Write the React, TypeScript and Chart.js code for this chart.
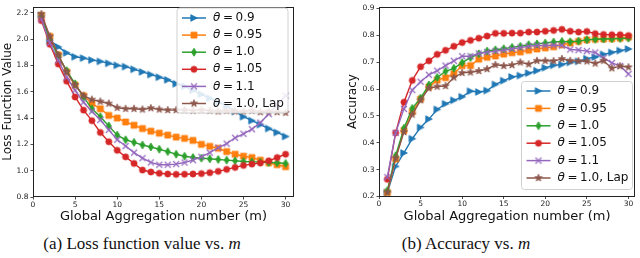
import React, { useEffect, useRef } from 'react';
import { Chart, registerables } from 'chart.js';
Chart.register(...registerables);

// ---------- data ----------
const rounds = [1, 2, 3, 4, 5, 6, 7, 8, 9, 10, 11, 12, 13, 14, 15, 16, 17, 18, 19, 20, 21, 22, 23, 24, 25, 26, 27, 28, 29, 30];
const seriesValues = ['0.9', '0.95', '1.0', '1.05', '1.1', '1.0'];
const seriesSuffix = ['', '', '', '', '', ', Lap'];
const seriesColors = ['#1f77b4', '#ff7f0e', '#2ca02c', '#d62728', '#9467bd', '#8c564b'];
const seriesMarkers = ['triR', 'square', 'thinDiamond', 'circle', 'x', 'star'];

const loss09 = [2.18, 1.99, 1.94, 1.895, 1.865, 1.855, 1.84, 1.83, 1.815, 1.80, 1.79, 1.77, 1.75, 1.73, 1.71, 1.69, 1.66, 1.64, 1.61, 1.58, 1.55, 1.52, 1.49, 1.45, 1.41, 1.38, 1.35, 1.32, 1.29, 1.26];
const loss095 = [2.18, 2.02, 1.88, 1.75, 1.65, 1.57, 1.51, 1.47, 1.42, 1.40, 1.37, 1.345, 1.32, 1.30, 1.285, 1.27, 1.255, 1.245, 1.23, 1.20, 1.185, 1.17, 1.145, 1.125, 1.11, 1.10, 1.08, 1.06, 1.045, 1.03];
const loss10 = [2.17, 2.00, 1.87, 1.76, 1.66, 1.56, 1.47, 1.41, 1.34, 1.27, 1.235, 1.215, 1.195, 1.18, 1.163, 1.145, 1.125, 1.11, 1.10, 1.095, 1.09, 1.085, 1.08, 1.075, 1.07, 1.068, 1.065, 1.062, 1.06, 1.055];
const loss105 = [2.14, 1.96, 1.81, 1.68, 1.56, 1.46, 1.38, 1.29, 1.22, 1.155, 1.105, 1.055, 1.005, 0.99, 0.98, 0.975, 0.972, 0.973, 0.975, 0.978, 0.985, 0.995, 1.01, 1.025, 1.04, 1.05, 1.058, 1.075, 1.10, 1.125];
const loss11 = [2.15, 1.97, 1.84, 1.71, 1.61, 1.52, 1.45, 1.385, 1.31, 1.235, 1.187, 1.137, 1.095, 1.063, 1.045, 1.045, 1.05, 1.062, 1.08, 1.105, 1.137, 1.175, 1.205, 1.25, 1.28, 1.315, 1.365, 1.43, 1.50, 1.57];
const lossLap = [2.19, 2.02, 1.88, 1.75, 1.65, 1.57, 1.54, 1.525, 1.51, 1.478, 1.47, 1.47, 1.465, 1.475, 1.465, 1.46, 1.46, 1.46, 1.455, 1.46, 1.455, 1.45, 1.455, 1.45, 1.45, 1.455, 1.445, 1.45, 1.445, 1.44];

const acc09 = [0.215, 0.312, 0.362, 0.415, 0.457, 0.488, 0.524, 0.545, 0.558, 0.571, 0.592, 0.589, 0.594, 0.617, 0.631, 0.645, 0.650, 0.659, 0.668, 0.679, 0.688, 0.691, 0.699, 0.703, 0.713, 0.719, 0.729, 0.736, 0.743, 0.749];
const acc095 = [0.215, 0.34, 0.446, 0.516, 0.563, 0.608, 0.633, 0.642, 0.657, 0.687, 0.687, 0.711, 0.718, 0.723, 0.73, 0.735, 0.738, 0.744, 0.749, 0.753, 0.757, 0.764, 0.771, 0.777, 0.783, 0.785, 0.786, 0.787, 0.789, 0.793];
const acc10 = [0.222, 0.352, 0.454, 0.528, 0.566, 0.615, 0.643, 0.666, 0.677, 0.698, 0.717, 0.731, 0.741, 0.746, 0.75, 0.755, 0.759, 0.765, 0.768, 0.771, 0.775, 0.777, 0.776, 0.778, 0.783, 0.785, 0.786, 0.787, 0.788, 0.789];
const acc105 = [0.264, 0.437, 0.551, 0.632, 0.683, 0.705, 0.729, 0.744, 0.759, 0.773, 0.781, 0.789, 0.797, 0.807, 0.807, 0.808, 0.808, 0.812, 0.812, 0.815, 0.818, 0.822, 0.815, 0.812, 0.814, 0.806, 0.803, 0.802, 0.802, 0.799];
const acc11 = [0.272, 0.437, 0.526, 0.596, 0.627, 0.653, 0.668, 0.687, 0.705, 0.722, 0.722, 0.732, 0.737, 0.741, 0.744, 0.749, 0.754, 0.759, 0.762, 0.762, 0.763, 0.762, 0.747, 0.745, 0.741, 0.736, 0.716, 0.697, 0.686, 0.656];
const accLap = [0.215, 0.342, 0.44, 0.505, 0.558, 0.603, 0.609, 0.611, 0.643, 0.66, 0.662, 0.667, 0.674, 0.69, 0.686, 0.689, 0.699, 0.692, 0.705, 0.705, 0.704, 0.712, 0.705, 0.704, 0.703, 0.695, 0.705, 0.677, 0.685, 0.681];

const xTicks = [0, 5, 10, 15, 20, 25, 30];
const lossTicks = [0.8, 1.0, 1.2, 1.4, 1.6, 1.8, 2.0, 2.2];
const accTicks = [0.2, 0.3, 0.4, 0.5, 0.6, 0.7, 0.8, 0.9];

const xTitle = 'Global Aggregation number (m)';
const lossTitle = 'Loss Function Value';
const accTitle = 'Accuracy';

// ---------- markers ----------
function markerCanvas(kind: string, color: string): HTMLCanvasElement {
  const c = document.createElement('canvas');
  c.width = 12;
  c.height = 12;
  const g = c.getContext('2d')!;
  g.translate(6, 6);
  g.fillStyle = color;
  g.strokeStyle = color;
  g.lineWidth = 0.8;
  g.lineJoin = 'miter';
  g.beginPath();
  if (kind === 'triR') {
    g.moveTo(3.4, 0);
    g.lineTo(-3.2, -3.3);
    g.lineTo(-3.2, 3.3);
    g.closePath();
    g.fill();
    g.stroke();
  } else if (kind === 'square') {
    g.rect(-3, -3, 6, 6);
    g.fill();
    g.stroke();
  } else if (kind === 'thinDiamond') {
    g.moveTo(0, -4);
    g.lineTo(2.5, 0);
    g.lineTo(0, 4);
    g.lineTo(-2.5, 0);
    g.closePath();
    g.fill();
    g.stroke();
  } else if (kind === 'circle') {
    g.arc(0, 0, 3.1, 0, Math.PI * 2);
    g.fill();
    g.stroke();
  } else if (kind === 'x') {
    g.lineWidth = 1.2;
    g.moveTo(-3, -3);
    g.lineTo(3, 3);
    g.moveTo(-3, 3);
    g.lineTo(3, -3);
    g.stroke();
  } else if (kind === 'star') {
    const R = 3.8, r = 1.5;
    for (let k = 0; k < 10; k++) {
      const a = -Math.PI / 2 + (k * Math.PI) / 5;
      const rr = k % 2 === 0 ? R : r;
      const px = rr * Math.cos(a), py = rr * Math.sin(a);
      if (k === 0) g.moveTo(px, py); else g.lineTo(px, py);
    }
    g.closePath();
    g.fill();
    g.stroke();
  }
  return c;
}

// ---------- plugins ----------
const spinePlugin = {
  id: 'spines',
  afterDatasetsDraw(chart: any) {
    const { ctx, chartArea } = chart;
    const l = Math.round(chartArea.left) + 0.5;
    const t = Math.round(chartArea.top) + 0.5;
    const r = Math.round(chartArea.right) - 0.5;
    const b = Math.round(chartArea.bottom) - 0.5;
    ctx.save();
    ctx.strokeStyle = '#222';
    ctx.lineWidth = 1;
    ctx.strokeRect(l, t, r - l, b - t);
    ctx.restore();
  },
};

function legendPlugin(box: { x: number; y: number; w: number; h: number; step: number; first: number }, markers: HTMLCanvasElement[]) {
  return {
    id: 'mplLegend',
    afterDraw(chart: any) {
      const ctx = chart.ctx as CanvasRenderingContext2D;
      ctx.save();
      const { x, y, w, h } = box;
      const rad = 3;
      ctx.beginPath();
      ctx.moveTo(x + rad, y);
      ctx.lineTo(x + w - rad, y);
      ctx.arcTo(x + w, y, x + w, y + rad, rad);
      ctx.lineTo(x + w, y + h - rad);
      ctx.arcTo(x + w, y + h, x + w - rad, y + h, rad);
      ctx.lineTo(x + rad, y + h);
      ctx.arcTo(x, y + h, x, y + h - rad, rad);
      ctx.lineTo(x, y + rad);
      ctx.arcTo(x, y, x + rad, y, rad);
      ctx.closePath();
      ctx.fillStyle = 'rgba(255,255,255,0.85)';
      ctx.fill();
      ctx.strokeStyle = '#d0d0d0';
      ctx.lineWidth = 1;
      ctx.stroke();
      for (let i = 0; i < seriesValues.length; i++) {
        const ry = y + box.first + i * box.step;
        ctx.beginPath();
        ctx.strokeStyle = seriesColors[i];
        ctx.lineWidth = 1.5;
        ctx.moveTo(x + 5, ry);
        ctx.lineTo(x + 29, ry);
        ctx.stroke();
        const m = markers[i];
        ctx.drawImage(m, x + 17 - m.width / 2, ry - m.height / 2);
        let tx = x + 36;
        ctx.fillStyle = '#111';
        ctx.textBaseline = 'middle';
        ctx.font = 'italic 12px "DejaVu Sans"';
        ctx.fillText('\u03b8', tx, ry);
        tx += ctx.measureText('\u03b8').width + 2.6;
        ctx.font = '12px "DejaVu Sans"';
        ctx.fillText('=', tx, ry);
        tx += ctx.measureText('=').width + 2.6;
        ctx.fillText(seriesValues[i] + seriesSuffix[i], tx, ry);
      }
      ctx.restore();
    },
  };
}

// ---------- config ----------
function buildConfig(p: {
  series: number[][];
  yTicks: number[];
  yMin: number;
  yMax: number;
  xMax: number;
  yTitle: string;
  yWidth: number;
  xHeight: number;
  pad: { left: number; top: number; right: number; bottom: number };
  yTitlePad: number;
  legend: { x: number; y: number; w: number; h: number; step: number; first: number };
  markers: HTMLCanvasElement[];
}): any {
  const datasets = p.series.map((vals, i) => ({
    label: seriesValues[i] + seriesSuffix[i],
    data: rounds.map((m, j) => ({ x: m, y: vals[j] })),
    borderColor: seriesColors[i],
    backgroundColor: seriesColors[i],
    borderWidth: 1.4,
    pointStyle: p.markers[i],
    pointRadius: 3.5,
    pointHoverRadius: 3.5,
    tension: 0,
    fill: false,
    order: p.series.length - 1 - i,
  }));
  const tickFont = { family: 'DejaVu Sans', size: 7.5 };
  return {
    type: 'line',
    data: { datasets },
    options: {
      responsive: false,
      animation: false,
      devicePixelRatio: 1,
      events: [],
      layout: { padding: p.pad },
      plugins: { legend: { display: false }, tooltip: { enabled: false }, title: { display: false } },
      scales: {
        x: {
          type: 'linear',
          min: 0,
          max: p.xMax,
          afterBuildTicks: (s: any) => {
            s.ticks = xTicks.map((v) => ({ value: v }));
          },
          ticks: { font: tickFont, color: '#222', padding: 1, maxRotation: 0, autoSkip: false, callback: (v: any) => String(v) },
          grid: { display: true, drawOnChartArea: false, drawTicks: true, tickLength: 2.5, color: '#222', lineWidth: 0.8 },
          border: { display: false },
          title: { display: true, text: xTitle, font: { family: 'DejaVu Sans', size: 13 }, color: '#111', padding: { top: 0, bottom: 0.5 } },
          afterFit: (s: any) => {
            s.height = p.xHeight;
          },
        },
        y: {
          type: 'linear',
          min: p.yMin,
          max: p.yMax,
          afterBuildTicks: (s: any) => {
            s.ticks = p.yTicks.map((v) => ({ value: v }));
          },
          ticks: { font: tickFont, color: '#222', padding: 2, autoSkip: false, callback: (v: any) => Number(v).toFixed(1) },
          grid: { display: true, drawOnChartArea: false, drawTicks: true, tickLength: 2.5, color: '#222', lineWidth: 0.8 },
          border: { display: false },
          title: { display: true, text: p.yTitle, font: { family: 'DejaVu Sans', size: 12 }, color: '#111', padding: { top: p.yTitlePad, bottom: 0 } },
          afterFit: (s: any) => {
            s.width = p.yWidth;
          },
        },
      },
    },
    plugins: [spinePlugin, legendPlugin(p.legend, p.markers)],
  };
}

export default function App() {
  const leftRef = useRef<HTMLCanvasElement>(null);
  const rightRef = useRef<HTMLCanvasElement>(null);

  useEffect(() => {
    const markers = seriesMarkers.map((k, i) => markerCanvas(k, seriesColors[i]));
    const c1 = new Chart(
      leftRef.current!,
      buildConfig({
        series: [loss09, loss095, loss10, loss105, loss11, lossLap],
        yTicks: lossTicks,
        yMin: 0.8,
        yMax: 2.247,
        xMax: 31,
        yTitle: lossTitle,
        yWidth: 33,
        xHeight: 28,
        pad: { left: 0, top: 3, right: 6, bottom: 0 },
        yTitlePad: 1,
        legend: { x: 177, y: 8, w: 111, h: 105, step: 17.1, first: 10 },
        markers,
      })
    );
    const c2 = new Chart(
      rightRef.current!,
      buildConfig({
        series: [acc09, acc095, acc10, acc105, acc11, accLap],
        yTicks: accTicks,
        yMin: 0.2,
        yMax: 0.907,
        xMax: 30.8,
        yTitle: accTitle,
        yWidth: 59,
        xHeight: 28.5,
        pad: { left: 0, top: 2, right: 3.5, bottom: 0 },
        yTitlePad: 25.8,
        legend: { x: 201.5, y: 81.5, w: 111, h: 108, step: 17.4, first: 9.5 },
        markers,
      })
    );
    return () => {
      c1.destroy();
      c2.destroy();
    };
  }, []);

  const capStyle: React.CSSProperties = {
    position: 'absolute',
    top: 234,
    width: 300,
    textAlign: 'center',
    fontFamily: '"Liberation Serif", "Times New Roman", serif',
    fontSize: 17,
    lineHeight: '20px',
    color: '#111',
    whiteSpace: 'nowrap',
  };

  return (
    <div style={{ position: 'absolute', left: 0, top: 0, width: 640, height: 258, background: '#fff', overflow: 'hidden' }}>
      <canvas ref={leftRef} width={300} height={225} style={{ position: 'absolute', left: 0, top: 0 }} />
      <canvas ref={rightRef} width={320} height={225} style={{ position: 'absolute', left: 320, top: 0 }} />
      <div style={{ ...capStyle, left: -8 }}>
        (a) Loss function value vs. <i>m</i>
      </div>
      <div style={{ ...capStyle, left: 316 }}>
        (b) Accuracy vs. <i>m</i>
      </div>
    </div>
  );
}
